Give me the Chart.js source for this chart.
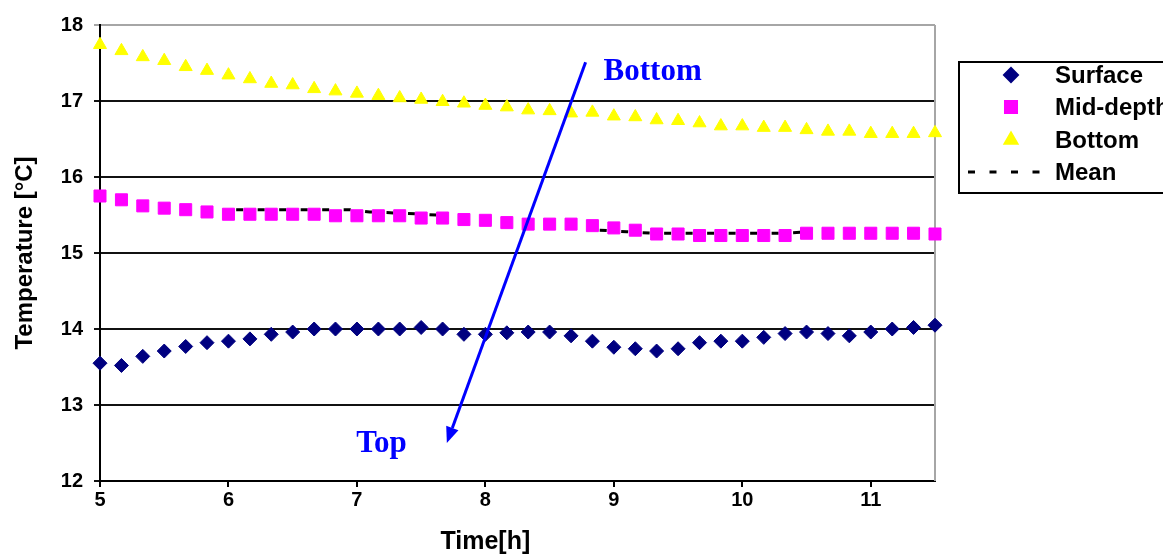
<!DOCTYPE html>
<html lang="en">
<head>
<meta charset="UTF-8">
<title>Temperature vs time</title>
<script src="https://cdn.jsdelivr.net/npm/chart.js@4.4.0/dist/chart.umd.min.js"></script>
<style>
  html, body { margin: 0; padding: 0; background: #fff; }
  #wrap { width: 1163px; height: 556px; }
</style>
</head>
<body>
<div id="wrap"><canvas id="chart" width="1163" height="556"></canvas></div>
<script>
// time of each reading [h], every 10 minutes
const times = [5.000, 5.167, 5.333, 5.500, 5.667, 5.833, 6.000, 6.167, 6.333, 6.500,
               6.667, 6.833, 7.000, 7.167, 7.333, 7.500, 7.667, 7.833, 8.000, 8.167,
               8.333, 8.500, 8.667, 8.833, 9.000, 9.167, 9.333, 9.500, 9.667, 9.833,
               10.000, 10.167, 10.333, 10.500, 10.667, 10.833, 11.000, 11.167, 11.333, 11.500];

const surface = [13.55, 13.52, 13.64, 13.71, 13.77, 13.82, 13.84, 13.87, 13.93, 13.96,
                 14.00, 14.00, 14.00, 14.00, 14.00, 14.02, 14.00, 13.93, 13.93, 13.95,
                 13.96, 13.96, 13.91, 13.84, 13.76, 13.74, 13.71, 13.74, 13.82, 13.84,
                 13.84, 13.89, 13.94, 13.96, 13.94, 13.91, 13.96, 14.00, 14.02, 14.05];

const midDepth = [15.75, 15.70, 15.62, 15.59, 15.57, 15.54, 15.51, 15.51, 15.51, 15.51,
                  15.51, 15.49, 15.49, 15.49, 15.49, 15.46, 15.46, 15.44, 15.43, 15.40,
                  15.38, 15.38, 15.38, 15.36, 15.33, 15.30, 15.25, 15.25, 15.23, 15.23,
                  15.23, 15.23, 15.23, 15.26, 15.26, 15.26, 15.26, 15.26, 15.26, 15.25];

const bottom = [17.74, 17.66, 17.58, 17.53, 17.45, 17.40, 17.34, 17.29, 17.23, 17.21,
                17.16, 17.13, 17.10, 17.07, 17.04, 17.02, 16.99, 16.97, 16.94, 16.92,
                16.88, 16.87, 16.84, 16.85, 16.80, 16.79, 16.75, 16.74, 16.71, 16.67,
                16.67, 16.65, 16.65, 16.62, 16.60, 16.60, 16.57, 16.57, 16.57, 16.58];

// dashed mean line, two visible stretches
const meanTimes  = [6.06, 6.95, 7.10, 7.40, 7.72, 8.30, 8.89, 9.10, 9.30, 10.30, 10.54];
const meanValues = [15.57, 15.57, 15.54, 15.52, 15.49, null, 15.30, 15.28, 15.26, 15.26, 15.28];

const xTicks = [5, 6, 7, 8, 9, 10, 11];
const yTicks = [12, 13, 14, 15, 16, 17, 18];

const labels = ['Surface', 'Mid-depth', 'Bottom', 'Mean'];

// annotation arrow (data coordinates)
const arrowFrom = [8.78, 17.51];
const arrowTo = [7.70, 12.50];

const FONT = '"Liberation Sans", Arial, sans-serif';
const SERIF = '"Liberation Serif", "Times New Roman", serif';

const pts = (xs, ys) => xs.map((t, i) => ({ x: t, y: ys[i] }));

const overlay = {
  id: 'overlay',
  beforeDatasetsDraw(chart) {
    const { ctx, chartArea: a } = chart;
    ctx.save();
    ctx.strokeStyle = '#a6a6a6';
    ctx.lineWidth = 2;
    ctx.beginPath();
    ctx.moveTo(a.right, a.top);
    ctx.lineTo(a.right, a.bottom);
    ctx.stroke();
    ctx.restore();
  },
  afterDraw(chart) {
    const { ctx, scales: { x, y } } = chart;
    ctx.save();

    // x axis title
    ctx.fillStyle = '#000';
    ctx.font = 'bold 25px ' + FONT;
    ctx.textAlign = 'center';
    ctx.textBaseline = 'middle';
    ctx.fillText('Time[h]', x.getPixelForValue(8), 542);

    // blue arrow with filled head
    const x0 = x.getPixelForValue(arrowFrom[0]), y0 = y.getPixelForValue(arrowFrom[1]);
    const x1 = x.getPixelForValue(arrowTo[0]), y1 = y.getPixelForValue(arrowTo[1]);
    const ang = Math.atan2(y1 - y0, x1 - x0);
    const len = 16, half = 6.5;
    const bx = x1 - len * Math.cos(ang), by = y1 - len * Math.sin(ang);
    ctx.strokeStyle = '#0000ff';
    ctx.fillStyle = '#0000ff';
    ctx.lineWidth = 3;
    ctx.beginPath();
    ctx.moveTo(x0, y0);
    ctx.lineTo(bx, by);
    ctx.stroke();
    ctx.beginPath();
    ctx.moveTo(x1, y1);
    ctx.lineTo(bx + half * Math.sin(ang), by - half * Math.cos(ang));
    ctx.lineTo(bx - half * Math.sin(ang), by + half * Math.cos(ang));
    ctx.closePath();
    ctx.fill();

    ctx.font = 'bold 31px ' + SERIF;
    ctx.textAlign = 'left';
    ctx.textBaseline = 'alphabetic';
    ctx.fillText('Bottom', x.getPixelForValue(8.92), y.getPixelForValue(17.28));
    ctx.fillText('Top', x.getPixelForValue(6.995), y.getPixelForValue(12.38));

    // legend
    ctx.strokeStyle = '#000';
    ctx.lineWidth = 2;
    ctx.strokeRect(959, 62, 220, 131);
    const rowY = [75, 107, 140, 172];
    ctx.font = 'bold 24px ' + FONT;
    ctx.textBaseline = 'middle';
    chart.data.datasets.forEach((ds, i) => {
      const yy = rowY[i];
      if (ds.showLine) {
        ctx.strokeStyle = ds.borderColor;
        ctx.lineWidth = ds.borderWidth;
        ctx.setLineDash(ds.borderDash);
        ctx.beginPath();
        ctx.moveTo(968, yy);
        ctx.lineTo(1049, yy);
        ctx.stroke();
        ctx.setLineDash([]);
      } else {
        ctx.fillStyle = ds.pointBackgroundColor;
        ctx.strokeStyle = ds.pointBorderColor;
        Chart.helpers.drawPoint(ctx, { pointStyle: ds.pointStyle, radius: ds.pointRadius, rotation: 0, borderWidth: 1 }, 1011, yy);
      }
      ctx.fillStyle = '#000';
      ctx.fillText(ds.label, 1055, yy + 1);
    });
    ctx.restore();
  }
};

new Chart(document.getElementById('chart'), {
  type: 'scatter',
  data: {
    datasets: [
      { label: labels[0], data: pts(times, surface), pointStyle: 'rectRot', pointRadius: 7,
        pointBackgroundColor: '#000080', pointBorderColor: '#000080', borderWidth: 1, clip: false },
      { label: labels[1], data: pts(times, midDepth), pointStyle: 'rect', pointRadius: 8.5,
        pointBackgroundColor: '#ff00ff', pointBorderColor: '#ff00ff', borderWidth: 1, clip: false },
      { label: labels[2], data: pts(times, bottom), pointStyle: 'triangle', pointRadius: 7.5,
        pointBackgroundColor: '#ffff00', pointBorderColor: '#ffff00', borderWidth: 1, clip: false },
      { label: labels[3], data: pts(meanTimes, meanValues), showLine: true, spanGaps: false,
        pointRadius: 0, borderColor: '#000', borderWidth: 3, borderDash: [7, 14.5], clip: false }
    ]
  },
  options: {
    responsive: false,
    animation: false,
    layout: { padding: { top: 25, right: 228, left: 0, bottom: 0 } },
    plugins: { legend: { display: false }, tooltip: { enabled: false } },
    scales: {
      x: {
        type: 'linear', min: 5, max: 11.5,
        afterBuildTicks: s => { s.ticks = xTicks.map(v => ({ value: v })); },
        afterFit: s => { s.height = 75; },
        ticks: { color: '#000', padding: 1, font: { family: FONT, size: 20, weight: 'bold' } },
        grid: { drawOnChartArea: false, drawTicks: true, tickLength: 6, color: '#000', lineWidth: 2 },
        border: { color: '#000', width: 2 }
      },
      y: {
        min: 12, max: 18,
        afterBuildTicks: s => { s.ticks = yTicks.map(v => ({ value: v })); },
        afterFit: s => { s.width = 100; },
        ticks: { color: '#000', padding: 11, font: { family: FONT, size: 20, weight: 'bold' } },
        grid: { color: c => (c.tick && c.tick.value === 18 ? '#a6a6a6' : '#111'), lineWidth: 2, tickLength: 6 },
        border: { color: '#000', width: 2 },
        title: { display: true, text: 'Temperature [°C]', color: '#000', padding: { top: 11, bottom: 0 },
                 font: { family: FONT, size: 24, weight: 'bold' } }
      }
    }
  },
  plugins: [overlay]
});
</script>
</body>
</html>
